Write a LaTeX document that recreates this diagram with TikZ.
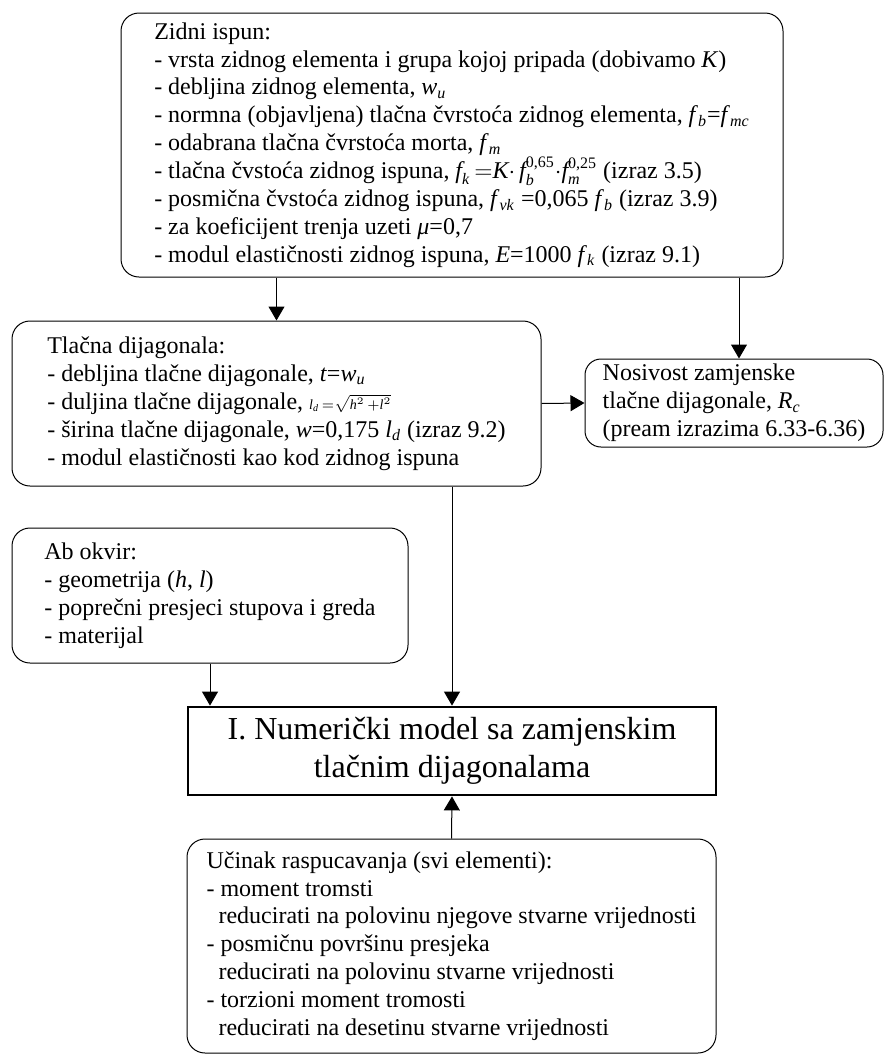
\documentclass[tikz,border=0pt]{standalone}
\usepackage{amsmath}
\usepackage{fontspec}
\setmainfont{Liberation Serif}
\usetikzlibrary{arrows.meta}
\newcommand{\vsub}[2]{\textit{#1}\textsubscript{\textit{#2}}}
\tikzset{
  infobox/.style={draw, line width=0.5pt, rounded corners=9pt, align=left, inner sep=0pt,
    font=\fontsize{12}{13.95}\selectfont},
  mainbox/.style={draw, line width=1.4pt, align=center, inner sep=0pt,
    font=\fontsize{16}{19}\selectfont},
  arr/.style={-{Triangle[length=7pt,width=8pt]}, line width=0.5pt}
}

\begin{document}
\begin{tikzpicture}[x=0.5pt,y=-0.5pt]
\useasboundingbox (0,0) rectangle (884,1055);
% input data boxes
\node[infobox, minimum width=331pt, minimum height=132pt] (ispun) at (452,145) {Zidni ispun:\\
- vrsta zidnog elementa i grupa kojoj pripada (dobivamo \textit{K})\\
- debljina zidnog elementa, \vsub{w}{u}\\
- normna (objavljena) tlačna čvrstoća zidnog elementa, \vsub{f}{b}=\vsub{f}{mc}\\
- odabrana tlačna čvrstoća morta, \vsub{f}{m}\\
- tlačna čvstoća zidnog ispuna, $\textit{f}_{\textit{k}}\,{=}\textit{K}{\cdot}\,\textit{f}_{\textit{b}}^{\textup{0,65}}{\cdot}\textit{f}_{\textit{m}}^{\textup{0,25}}$ (izraz 3.5)\\
- posmična čvstoća zidnog ispuna, \vsub{f}{vk} =0,065 \vsub{f}{b} (izraz 3.9)\\
- za koeficijent trenja uzeti \textit{μ}=0,7\\
- modul elastičnosti zidnog ispuna, \textit{E}=1000 \vsub{f}{k} (izraz 9.1)};
\node[infobox, minimum width=264.5pt, minimum height=82.5pt] (dijag) at (276.5,403.5) {Tlačna dijagonala:\\
- debljina tlačne dijagonale, \textit{t}=\vsub{w}{u}\\
- duljina tlačne dijagonale, \smash{\scriptsize$\textit{l}_{\textit{d}}\,{=}\sqrt{\textit{h}^{2}\,{+}\textit{l}^{2}}$}\\
- širina tlačne dijagonale, \textit{w}=0,175 \vsub{l}{d} (izraz 9.2)\\
- modul elastičnosti kao kod zidnog ispuna};
\node[infobox, rounded corners=8pt, minimum width=149pt, minimum height=44pt] (nosiv) at (734,403) {Nosivost zamjenske\\
tlačne dijagonale, \vsub{R}{c}\\
(pream izrazima 6.33-6.36)};
\node[infobox, minimum width=198pt, minimum height=67.5pt] (okvir) at (210,595.5) {Ab okvir:\\
- geometrija (\textit{h}, \textit{l})\\
- poprečni presjeci stupova i greda\\
- materijal};
% model and cracking
\node[mainbox, minimum width=264pt, minimum height=44pt] (model) at (452,751) {I. Numerički model sa zamjenskim\\
tlačnim dijagonalama};
\node[infobox, minimum width=264.5pt, minimum height=107pt] (puk) at (451.5,946) {Učinak raspucavanja (svi elementi):\\
- moment tromsti\\
\hspace*{6pt}reducirati na polovinu njegove stvarne vrijednosti\\
- posmičnu površinu presjeka\\
\hspace*{6pt}reducirati na polovinu stvarne vrijednosti\\
- torzioni moment tromosti\\
\hspace*{6pt}reducirati na desetinu stvarne vrijednosti};
% connectors
\draw[arr] (ispun.south -| dijag.north) -- (dijag.north);
\draw[arr] ([xshift=2.5pt]ispun.south -| nosiv.north) -- ([xshift=2.5pt]nosiv.north);
\draw[arr] (dijag.east) -- (nosiv.west);
\draw[arr] (dijag.south -| model.north) -- (model.north);
\draw[arr] (okvir.south) -- (okvir.south |- model.north);
\draw[arr] (puk.north) -- (model.south);
\end{tikzpicture}
\end{document}
